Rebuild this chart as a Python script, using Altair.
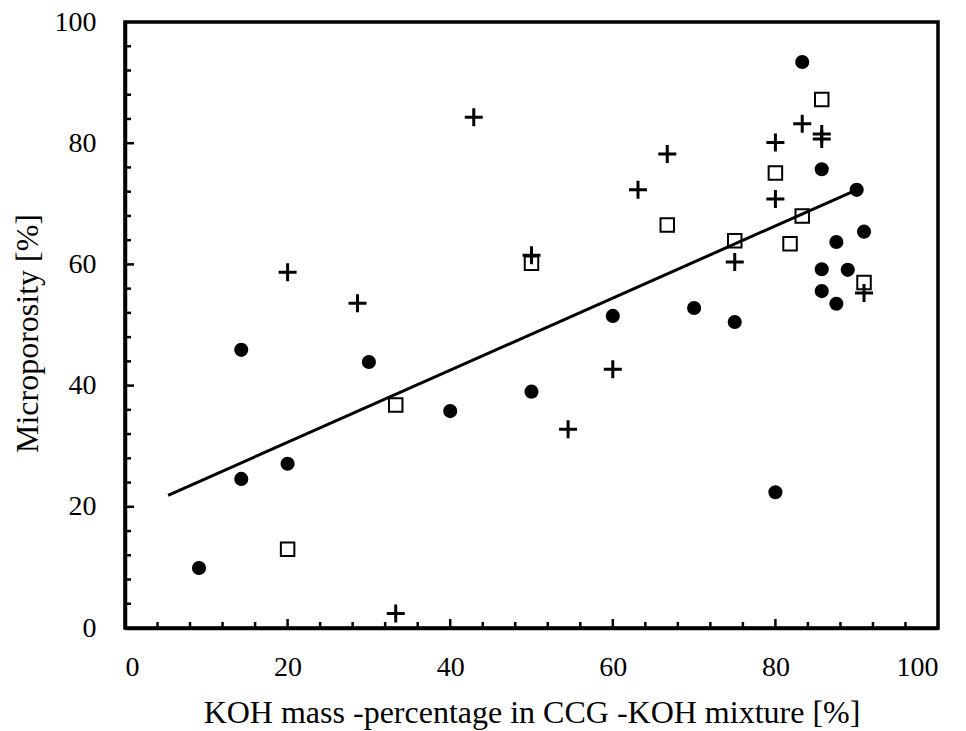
import altair as alt
import pandas as pd

# ---- data ----
circle_x = [9.1, 14.3, 14.3, 20.0, 30.0, 40.0, 50.0, 60.0, 70.0, 75.0, 80.0, 83.3, 85.7, 90.0, 90.9, 87.5, 85.7, 88.9, 85.7, 87.5]
circle_y = [9.9, 45.9, 24.6, 27.1, 43.9, 35.8, 39.0, 51.5, 52.8, 50.5, 22.4, 93.4, 75.7, 72.3, 65.4, 63.7, 59.2, 59.1, 55.6, 53.5]

square_x = [20.0, 33.3, 50.0, 66.7, 75.0, 80.0, 81.8, 83.3, 85.7, 90.9]
square_y = [13.0, 36.8, 60.2, 66.5, 63.9, 75.1, 63.4, 68.0, 87.2, 57.0]

plus_x = [20.0, 28.6, 33.3, 42.9, 50.0, 54.5, 60.0, 63.1, 66.7, 75.0, 80.0, 80.0, 83.3, 85.7, 85.7, 90.9]
plus_y = [58.7, 53.6, 2.4, 84.3, 61.5, 32.8, 42.7, 72.3, 78.2, 60.4, 80.1, 70.8, 83.2, 81.5, 80.7, 55.3]

trend_x = [5.3, 90.0]
trend_y = [21.9, 72.3]

axis_ticks = [0, 20, 40, 60, 80, 100]
minor_ticks = [4, 8, 12, 16, 24, 28, 32, 36, 44, 48, 52, 56, 64, 68, 72, 76, 84, 88, 92, 96]
major_ticks = [20, 40, 60, 80]

x_title = "KOH mass -percentage in CCG -KOH mixture [%]"
y_title = "Microporosity [%]"

# ---- frames ----
df_c = pd.DataFrame({"x": circle_x, "y": circle_y})
df_s = pd.DataFrame({"x": square_x, "y": square_y})
df_p = pd.DataFrame({"x": plus_x, "y": plus_y})
df_t = pd.DataFrame({"x": trend_x, "y": trend_y})
df_xmin = pd.DataFrame({"x": minor_ticks})
df_xmaj = pd.DataFrame({"x": major_ticks})
df_ymin = pd.DataFrame({"y": minor_ticks})
df_ymaj = pd.DataFrame({"y": major_ticks})

W, H = 813, 606
FONT = "Liberation Serif"

xaxis = alt.Axis(values=axis_ticks, format="d", grid=False, ticks=False, tickSize=0,
                 domainColor="black", domainWidth=3.5, labelPadding=25,
                 title=x_title, titleX=W / 2, titleY=94, titleAlign="center",
                 titleBaseline="alphabetic")
yaxis = alt.Axis(values=axis_ticks, format="d", grid=False, ticks=False, tickSize=0,
                 domainColor="black", domainWidth=3.5, labelPadding=29,
                 title=y_title, titleX=-98, titleY=311, titleAngle=270,
                 titleAlign="center", titleBaseline="middle")

X = alt.X("x:Q", scale=alt.Scale(domain=[0, 100], nice=False, zero=False), axis=xaxis)
Y = alt.Y("y:Q", scale=alt.Scale(domain=[0, 100], nice=False, zero=False), axis=yaxis)

trend = alt.Chart(df_t).mark_line(color="black", strokeWidth=3).encode(x=X, y=Y)

circles = alt.Chart(df_c).mark_point(shape="circle", filled=True, size=200,
                                     color="black", opacity=1).encode(x=X, y=Y)
squares = alt.Chart(df_s).mark_point(shape="square", filled=False, size=182,
                                     stroke="black", strokeWidth=2, opacity=1).encode(x=X, y=Y)
pluses = alt.Chart(df_p).mark_point(shape="M-1,0L1,0M0,-1L0,1", filled=False, size=324,
                                    stroke="black", strokeWidth=3, opacity=1).encode(x=X, y=Y)

xmin = alt.Chart(df_xmin).mark_rule(color="black", strokeWidth=2.5).encode(
    x=X, y=alt.value(H), y2=alt.value(H - 6))
xmaj = alt.Chart(df_xmaj).mark_rule(color="black", strokeWidth=2.5).encode(
    x=X, y=alt.value(H), y2=alt.value(H - 9))
ymin = alt.Chart(df_ymin).mark_rule(color="black", strokeWidth=2.5).encode(
    y=Y, x=alt.value(0), x2=alt.value(6))
ymaj = alt.Chart(df_ymaj).mark_rule(color="black", strokeWidth=2.5).encode(
    y=Y, x=alt.value(0), x2=alt.value(9))

chart = alt.layer(xmin, xmaj, ymin, ymaj, trend, circles, squares, pluses).properties(
    width=W, height=H,
    padding={"left": 125, "top": 22, "right": 28, "bottom": 103},
    autosize=alt.AutoSizeParams(type="none"),
    background="white",
).configure_view(
    stroke="black", strokeWidth=3.5
).configure_axis(
    labelFont=FONT, labelFontSize=28, labelColor="black",
    titleFont=FONT, titleFontSize=32, titleFontWeight="normal", titleColor="black",
)

chart.save("out.html", embed_options={"renderer": "svg", "actions": False})
